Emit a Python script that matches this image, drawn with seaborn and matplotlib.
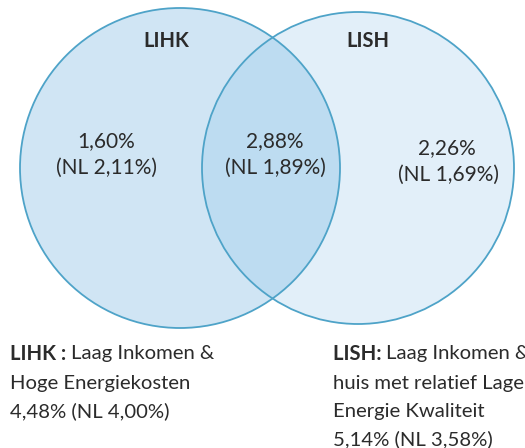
import matplotlib
matplotlib.use("Agg")
import matplotlib.pyplot as plt
from matplotlib.patches import Circle
import seaborn as sns

sns.set_theme(style="white")
plt.rcParams['font.family'] = ['Lato', 'DejaVu Sans']

# Data
set_names = ["LIHK", "LISH"]
only_values = ["1,60%", "2,26%"]
only_nl = ["2,11%", "1,69%"]
overlap_value = "2,88%"
overlap_nl = "1,89%"
desc_bold = ["LIHK : ", "LISH: "]
desc_lines = [["Laag Inkomen &", "Hoge Energiekosten"],
              ["Laag Inkomen &", "huis met relatief Lage", "Energie Kwaliteit"]]
totals = ["4,48% (NL 4,00%)", "5,14% (NL 3,58%)"]

W, H = 525, 448
fig = plt.figure(figsize=(W / 100, H / 100), dpi=100)
ax = fig.add_axes([0, 0, 1, 1])
ax.set_xlim(0, W)
ax.set_ylim(H, 0)
ax.axis("off")

edge = "#4ea3c8"
c1 = (180, 168, 160)
c2 = (358, 168, 156)

right = Circle(c2[:2], c2[2], facecolor="#e2eff9", edgecolor="none", zorder=1)
left = Circle(c1[:2], c1[2], facecolor="#d0e5f4", edgecolor="none", zorder=2)
ax.add_patch(right)
ax.add_patch(left)
inter = Circle(c1[:2], c1[2], facecolor="#bddcf1", edgecolor="none", zorder=3)
ax.add_patch(inter)
clip = Circle(c2[:2], c2[2], transform=ax.transData)
inter.set_clip_path(clip)
for c in (c1, c2):
    ax.add_patch(Circle(c[:2], c[2], facecolor="none", edgecolor=edge, lw=1.3, zorder=4))

tc = "#2b2b2b"
fs = 15
ax.text(166, 41, set_names[0], ha="center", va="center", fontsize=14.5, fontweight="bold", color=tc, zorder=5)
ax.text(368, 41, set_names[1], ha="center", va="center", fontsize=14.5, fontweight="bold", color=tc, zorder=5)

ax.text(106, 141, only_values[0], ha="center", va="center", fontsize=fs, color=tc, zorder=5)
ax.text(106, 168, f"(NL {only_nl[0]})", ha="center", va="center", fontsize=fs, color=tc, zorder=5)
ax.text(275, 141, overlap_value, ha="center", va="center", fontsize=fs, color=tc, zorder=5)
ax.text(275, 168, f"(NL {overlap_nl})", ha="center", va="center", fontsize=fs, color=tc, zorder=5)
ax.text(447, 148, only_values[1], ha="center", va="center", fontsize=fs, color=tc, zorder=5)
ax.text(448, 175, f"(NL {only_nl[1]})", ha="center", va="center", fontsize=fs, color=tc, zorder=5)

fb = 14.6
xs = [10, 333]
ys = [354, 383, 411, 439]
for i in range(2):
    lines = desc_lines[i] + [totals[i]]
    for j, line in enumerate(lines):
        if j == 0:
            t = ax.text(xs[i], ys[j], desc_bold[i], ha="left", va="center", fontsize=fb,
                        fontweight="bold", color=tc)
            fig.canvas.draw()
            bb = t.get_window_extent()
            x0 = ax.transData.inverted().transform((bb.x1, bb.y0))[0]
            ax.text(x0, ys[j], line, ha="left", va="center", fontsize=fb, color=tc)
        else:
            ax.text(xs[i], ys[j], line, ha="left", va="center", fontsize=fb, color=tc)

fig.savefig("out.png", dpi=100, facecolor="white")
